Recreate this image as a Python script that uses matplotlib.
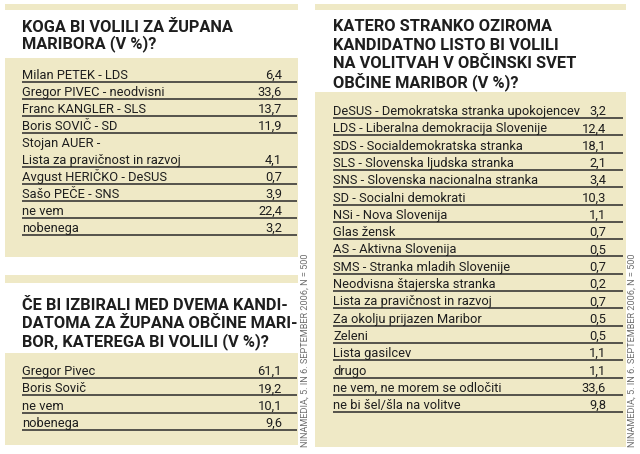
import matplotlib
matplotlib.use("Agg")
import matplotlib.pyplot as plt
from matplotlib import font_manager
from matplotlib.patches import Rectangle

# --- data ---
title_mayor = ["KOGA BI VOLILI ZA ŽUPANA", "MARIBORA (V %)?"]
mayor_labels = ["Milan PETEK - LDS", "Gregor PIVEC - neodvisni", "Franc KANGLER - SLS",
                "Boris SOVIČ - SD", "Stojan AUER -\nLista za pravičnost in razvoj",
                "Avgust HERIČKO - DeSUS", "Sašo PEČE - SNS", "ne vem", "nobenega"]
mayor_values = ["6,4", "33,6", "13,7", "11,9", "4,1", "0,7", "3,9", "22,4", "3,2"]

title_runoff = ["ČE BI IZBIRALI MED DVEMA KANDI-", "DATOMA ZA ŽUPANA OBČINE MARI-",
                "BOR, KATEREGA BI VOLILI (V %)?"]
runoff_labels = ["Gregor Pivec", "Boris Sovič", "ne vem", "nobenega"]
runoff_values = ["61,1", "19,2", "10,1", "9,6"]

title_council = ["KATERO STRANKO OZIROMA", "KANDIDATNO LISTO BI VOLILI",
                 "NA VOLITVAH V OBČINSKI SVET", "OBČINE MARIBOR (V %)?"]
council_labels = ["DeSUS - Demokratska stranka upokojencev", "LDS - Liberalna demokracija Slovenije",
                  "SDS - Socialdemokratska stranka", "SLS - Slovenska ljudska stranka",
                  "SNS - Slovenska nacionalna stranka", "SD - Socialni demokrati",
                  "NSi - Nova Slovenija", "Glas žensk", "AS - Aktivna Slovenija",
                  "SMS - Stranka mladih Slovenije", "Neodvisna štajerska stranka",
                  "Lista za pravičnost in razvoj", "Za okolju prijazen Maribor", "Zeleni",
                  "Lista gasilcev", "drugo", "ne vem, ne morem se odločiti",
                  "ne bi šel/šla na volitve"]
council_values = ["3,2", "12,4", "18,1", "2,1", "3,4", "10,3", "1,1", "0,7", "0,5",
                  "0,7", "0,2", "0,7", "0,5", "0,5", "1,1", "1,1", "33,6", "9,8"]

source = "NINAMEDIA, 5. IN 6. SEPTEMBER 2006, N = 500"

BEIGE = "#efe9c6"
INK = "#1e1e1e"
BODY_SIZE = 9.3


def pick_font(names):
    for n in names:
        try:
            font_manager.findfont(n, fallback_to_default=False)
            return n
        except Exception:
            pass
    return "DejaVu Sans"


body_font = pick_font(["Liberation Sans Narrow", "DejaVu Sans Condensed", "Roboto", "DejaVu Sans"])
plt.rcParams['font.family'] = [body_font, 'DejaVu Sans']

fig = plt.figure(figsize=(6.4, 4.54), dpi=100)
ax = fig.add_axes([0, 0, 1, 1])
ax.set_xlim(0, 640)
ax.set_ylim(454, 0)
ax.axis("off")


def box(x0, y0, x1, y1):
    ax.add_patch(Rectangle((x0, y0), x1 - x0, y1 - y0, facecolor=BEIGE, edgecolor="none"))


def title(x, y, lines, step=18.6):
    for i, line in enumerate(lines):
        ax.text(x, y + i * step, line, fontsize=11.8, fontweight="bold", color=INK,
                ha="left", va="baseline")


def rows(labels, values, x_text, x_val, x_line_end, first_line, step):
    y = first_line
    for lab, val in zip(labels, values):
        parts = lab.split("\n")
        y += (len(parts) - 1) * step
        for k, part in enumerate(parts):
            ax.text(x_text, y - 3 - (len(parts) - 1 - k) * step, part, fontsize=BODY_SIZE,
                    color=INK, ha="left", va="baseline")
        ax.text(x_val, y - 3, val, fontsize=BODY_SIZE, color=INK, ha="right", va="baseline")
        ax.plot([x_text, x_line_end], [y, y], color="#2a2a2a", lw=1.1, solid_capstyle="butt")
        y += step


# left top panel
box(5, 4, 298, 10)
title(22, 32, title_mayor, 16.5)
box(5, 58, 298, 257)
rows(mayor_labels, mayor_values, 22, 282, 297, 82, 17)

# left bottom panel
box(5, 275, 298, 283)
title(22, 310, title_runoff, 18.3)
box(5, 353, 298, 445)
rows(runoff_labels, runoff_values, 22, 282, 297, 378, 17.3)

# right panel
box(315, 4, 626, 10)
title(333, 31, title_council, 18.6)
box(315, 92, 626, 447)
rows(council_labels, council_values, 333, 606, 623, 118, 17.3)

# source notes
for xs in (305, 632):
    ax.text(xs, 447, source, fontsize=6.6, color="#6f6f6f", rotation=90,
            ha="center", va="bottom")

fig.savefig("out.png", dpi=100)
plt.close(fig)
